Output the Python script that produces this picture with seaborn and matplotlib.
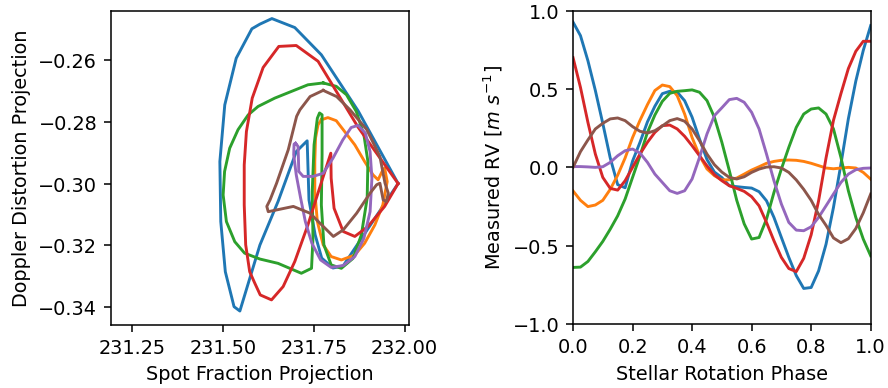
import numpy as np
import pandas as pd
import matplotlib
matplotlib.use("Agg")
import matplotlib.pyplot as plt
from matplotlib import ticker
import seaborn as sns

# ---------------- data ----------------
series_names = ["s1", "s2", "s3", "s4", "s5", "s6"]

phase = [0.0, 0.025, 0.05, 0.075, 0.1, 0.125, 0.15, 0.175, 0.2, 0.225,
         0.25, 0.275, 0.3, 0.325, 0.35, 0.375, 0.4, 0.425, 0.45, 0.475,
         0.5, 0.525, 0.55, 0.575, 0.6, 0.625, 0.65, 0.675, 0.7, 0.725,
         0.75, 0.775, 0.8, 0.825, 0.85, 0.875, 0.9, 0.925, 0.95, 0.975, 1.0]

rv_s1 = [0.926, 0.84, 0.68, 0.49, 0.28, 0.06, -0.11, -0.13, 0.04, 0.16,
         0.29, 0.39, 0.47, 0.485, 0.48, 0.425, 0.32, 0.18, 0.05, -0.03,
         -0.065, -0.117, -0.123, -0.128, -0.132, -0.155, -0.213, -0.319, -0.447, -0.574,
         -0.69, -0.772, -0.766, -0.66, -0.49, -0.255, 0.02, 0.31, 0.55, 0.745, 0.904]
rv_s2 = [-0.15, -0.21, -0.25, -0.24, -0.21, -0.14, -0.05, 0.06, 0.19, 0.30,
         0.40, 0.49, 0.525, 0.515, 0.457, 0.34, 0.19, 0.075, -0.01, -0.053,
         -0.08, -0.079, -0.068, -0.043, -0.017, 0.004, 0.026, 0.038, 0.045, 0.047,
         0.045, 0.038, 0.026, 0.011, -0.004, -0.009, -0.004, 0.0, -0.004, -0.032, -0.075]
rv_s3 = [-0.638, -0.636, -0.60, -0.538, -0.472, -0.394, -0.309, -0.202, -0.064, 0.074,
         0.223, 0.334, 0.421, 0.472, 0.485, 0.489, 0.494, 0.479, 0.426, 0.319,
         0.16, -0.02, -0.21, -0.36, -0.457, -0.447, -0.33, -0.16, -0.01, 0.128,
         0.255, 0.34, 0.372, 0.379, 0.34, 0.245, 0.064, -0.149, -0.319, -0.457, -0.564]
rv_s4 = [0.70, 0.51, 0.287, 0.085, -0.064, -0.134, -0.145, -0.085, 0.0, 0.085,
         0.16, 0.223, 0.266, 0.27, 0.245, 0.198, 0.138, 0.074, 0.01, -0.047,
         -0.085, -0.117, -0.134, -0.153, -0.187, -0.245, -0.351, -0.468, -0.574, -0.645,
         -0.665, -0.58, -0.43, -0.213, 0.06, 0.30, 0.47, 0.63, 0.74, 0.804, 0.804]
rv_s5 = [0.005, 0.005, 0.003, 0.0, 0.004, 0.032, 0.074, 0.106, 0.117, 0.091,
         0.032, -0.043, -0.096, -0.149, -0.166, -0.149, -0.074, 0.064, 0.213, 0.33,
         0.38, 0.432, 0.44, 0.415, 0.351, 0.245, 0.085, -0.085, -0.234, -0.351,
         -0.40, -0.404, -0.379, -0.319, -0.245, -0.17, -0.096, -0.043, -0.015, -0.006, -0.004]
rv_s6 = [0.0, 0.10, 0.175, 0.245, 0.281, 0.309, 0.315, 0.298, 0.26, 0.23,
         0.219, 0.234, 0.264, 0.298, 0.311, 0.294, 0.245, 0.17, 0.085, 0.017,
         -0.03, -0.064, -0.074, -0.06, -0.032, -0.011, 0.002, 0.004, -0.004, -0.032,
         -0.08, -0.14, -0.21, -0.30, -0.37, -0.45, -0.48, -0.455, -0.39, -0.29, -0.17]

# Left panel loops: (spot fraction projection, doppler distortion projection)
spot_s1 = [231.982, 231.872, 231.771, 231.698, 231.635, 231.602, 231.580, 231.537, 231.5055,
           231.492, 231.4945, 231.507, 231.531, 231.547, 231.602, 231.652, 231.702, 231.732,
           231.737, 231.754, 231.772, 231.803, 231.831]
dop_s1 = [-0.300, -0.2765, -0.2584, -0.2496, -0.2467, -0.2485, -0.2500, -0.2595, -0.2746,
          -0.2929, -0.3123, -0.3285, -0.3398, -0.3412, -0.3199, -0.3058, -0.2897, -0.2862,
          -0.3053, -0.3166, -0.3241, -0.3273, -0.3266]

spot_s2 = [231.771, 231.789, 231.812, 231.835, 231.863, 231.890, 231.913, 231.927, 231.938,
           231.945, 231.952, 231.940, 231.918, 231.890, 231.863, 231.826, 231.798, 231.776,
           231.760, 231.753, 231.753, 231.755, 231.762]
dop_s2 = [-0.2794, -0.2787, -0.2797, -0.2832, -0.2875, -0.2929, -0.2972, -0.2988, -0.2961,
          -0.2950, -0.2994, -0.3069, -0.3134, -0.3193, -0.3231, -0.3247, -0.3236, -0.3198,
          -0.3123, -0.3026, -0.2929, -0.2853, -0.2810]

spot_s3 = [231.776, 231.734, 231.643, 231.597, 231.570, 231.542, 231.519, 231.505, 231.501,
           231.510, 231.533, 231.560, 231.602, 231.652, 231.716, 231.744, 231.748, 231.746,
           231.751, 231.760, 231.766, 231.773, 231.773, 231.771, 231.778, 231.798, 231.826,
           231.858, 231.881, 231.897, 231.899, 231.888, 231.867, 231.840, 231.812]
dop_s3 = [-0.2675, -0.2681, -0.2724, -0.2751, -0.2778, -0.2826, -0.2886, -0.2961, -0.3037,
          -0.3123, -0.3188, -0.3225, -0.3244, -0.3258, -0.3290, -0.3274, -0.3177, -0.3026,
          -0.2875, -0.2789, -0.2772, -0.2778, -0.2907, -0.3069, -0.3198, -0.3263, -0.3274,
          -0.3242, -0.3166, -0.3047, -0.2929, -0.2843, -0.2767, -0.2713, -0.2686]

spot_s4 = [231.982, 231.872, 231.762, 231.702, 231.654, 231.611, 231.581, 231.565, 231.559,
           231.559, 231.563, 231.574, 231.588, 231.603, 231.634, 231.666, 231.698, 231.734,
           231.766, 231.797, 231.798, 231.806, 231.831, 231.863, 231.899, 231.945]
dop_s4 = [-0.300, -0.2818, -0.2605, -0.2554, -0.2557, -0.2625, -0.2724, -0.2832, -0.2940,
          -0.3069, -0.3198, -0.3285, -0.3322, -0.3360, -0.3376, -0.3333, -0.3252, -0.3134,
          -0.3015, -0.2902, -0.2983, -0.3080, -0.3155, -0.3171, -0.3139, -0.3074]

spot_s5 = [231.700, 231.707, 231.709, 231.721, 231.748, 231.776, 231.803, 231.830, 231.853,
           231.872, 231.892, 231.905, 231.910, 231.905, 231.888, 231.863, 231.831, 231.798,
           231.769, 231.745, 231.727, 231.714, 231.702, 231.695, 231.696]
dop_s5 = [-0.2870, -0.2880, -0.2961, -0.2977, -0.2977, -0.2967, -0.2918, -0.2859, -0.2819,
          -0.2812, -0.2837, -0.2897, -0.2983, -0.3091, -0.3177, -0.3236, -0.3265, -0.3271,
          -0.3247, -0.3193, -0.3123, -0.3047, -0.2972, -0.2907, -0.2873]

spot_s6 = [231.776, 231.813, 231.850, 231.896, 231.932, 231.946, 231.955, 231.950, 231.941,
           231.932, 231.923, 231.905, 231.868, 231.831, 231.804, 231.767, 231.740, 231.694,
           231.625, 231.621, 231.630, 231.648, 231.680, 231.703, 231.712, 231.740]
dop_s6 = [-0.2699, -0.2719, -0.2762, -0.2826, -0.2913, -0.2999, -0.3031, -0.3058, -0.3053,
          -0.2999, -0.3004, -0.3031, -0.3096, -0.3150, -0.3171, -0.3128, -0.3096, -0.3074,
          -0.3091, -0.3074, -0.3053, -0.2999, -0.2891, -0.2783, -0.2762, -0.2719]

x_ticks_left = [231.25, 231.50, 231.75, 232.00]
y_ticks_left = [-0.34, -0.32, -0.30, -0.28, -0.26]
x_ticks_right = [0.0, 0.2, 0.4, 0.6, 0.8, 1.0]
y_ticks_right = [-1.0, -0.5, 0.0, 0.5, 1.0]

# ---------------- tables ----------------
spots = [spot_s1, spot_s2, spot_s3, spot_s4, spot_s5, spot_s6]
dops = [dop_s1, dop_s2, dop_s3, dop_s4, dop_s5, dop_s6]
rvs = [rv_s1, rv_s2, rv_s3, rv_s4, rv_s5, rv_s6]

loop_rows = []
for name, sx, dy in zip(series_names, spots, dops):
    xs = list(sx) + [sx[0]]
    ys = list(dy) + [dy[0]]
    for i, (a, b) in enumerate(zip(xs, ys)):
        loop_rows.append({"series": name, "order": i, "spot": a, "doppler": b})
loop_df = pd.DataFrame(loop_rows)

rv_rows = []
for name, vals in zip(series_names, rvs):
    for p, v in zip(phase, vals):
        rv_rows.append({"series": name, "phase": p, "rv": v})
rv_df = pd.DataFrame(rv_rows)

palette = dict(zip(series_names, sns.color_palette("tab10", 6)))

# ---------------- figure ----------------
plt.rcParams["font.family"] = ["DejaVu Sans"]
fig = plt.figure(figsize=(6.4, 2.8), dpi=138.75)
ax1 = fig.add_axes([0.1247, 0.1631, 0.3359, 0.8085])
ax2 = fig.add_axes([0.6453, 0.1642, 0.3352, 0.8074])

sns.lineplot(data=loop_df, x="spot", y="doppler", hue="series", palette=palette,
             sort=False, estimator=None, legend=False, ax=ax1, linewidth=1.5)
ax1.set_xlim(231.192, 232.012)
ax1.set_ylim(-0.3456, -0.2441)
ax1.xaxis.set_major_locator(ticker.FixedLocator(x_ticks_left))
ax1.xaxis.set_major_formatter(ticker.FuncFormatter(lambda v, p: f"{v:.2f}"))
ax1.yaxis.set_major_locator(ticker.FixedLocator(y_ticks_left))
ax1.set_xlabel("Spot Fraction Projection")
ax1.set_ylabel("Doppler Distortion Projection")

sns.lineplot(data=rv_df, x="phase", y="rv", hue="series", palette=palette,
             sort=False, estimator=None, legend=False, ax=ax2, linewidth=1.5)
ax2.set_xlim(0, 1)
ax2.set_ylim(-1, 1)
ax2.xaxis.set_major_locator(ticker.FixedLocator(x_ticks_right))
ax2.yaxis.set_major_locator(ticker.FixedLocator(y_ticks_right))
ax2.set_xlabel("Stellar Rotation Phase")
ax2.set_ylabel(r"Measured RV [$m\ s^{-1}$]")

fig.savefig("out.png", dpi=138.75)
